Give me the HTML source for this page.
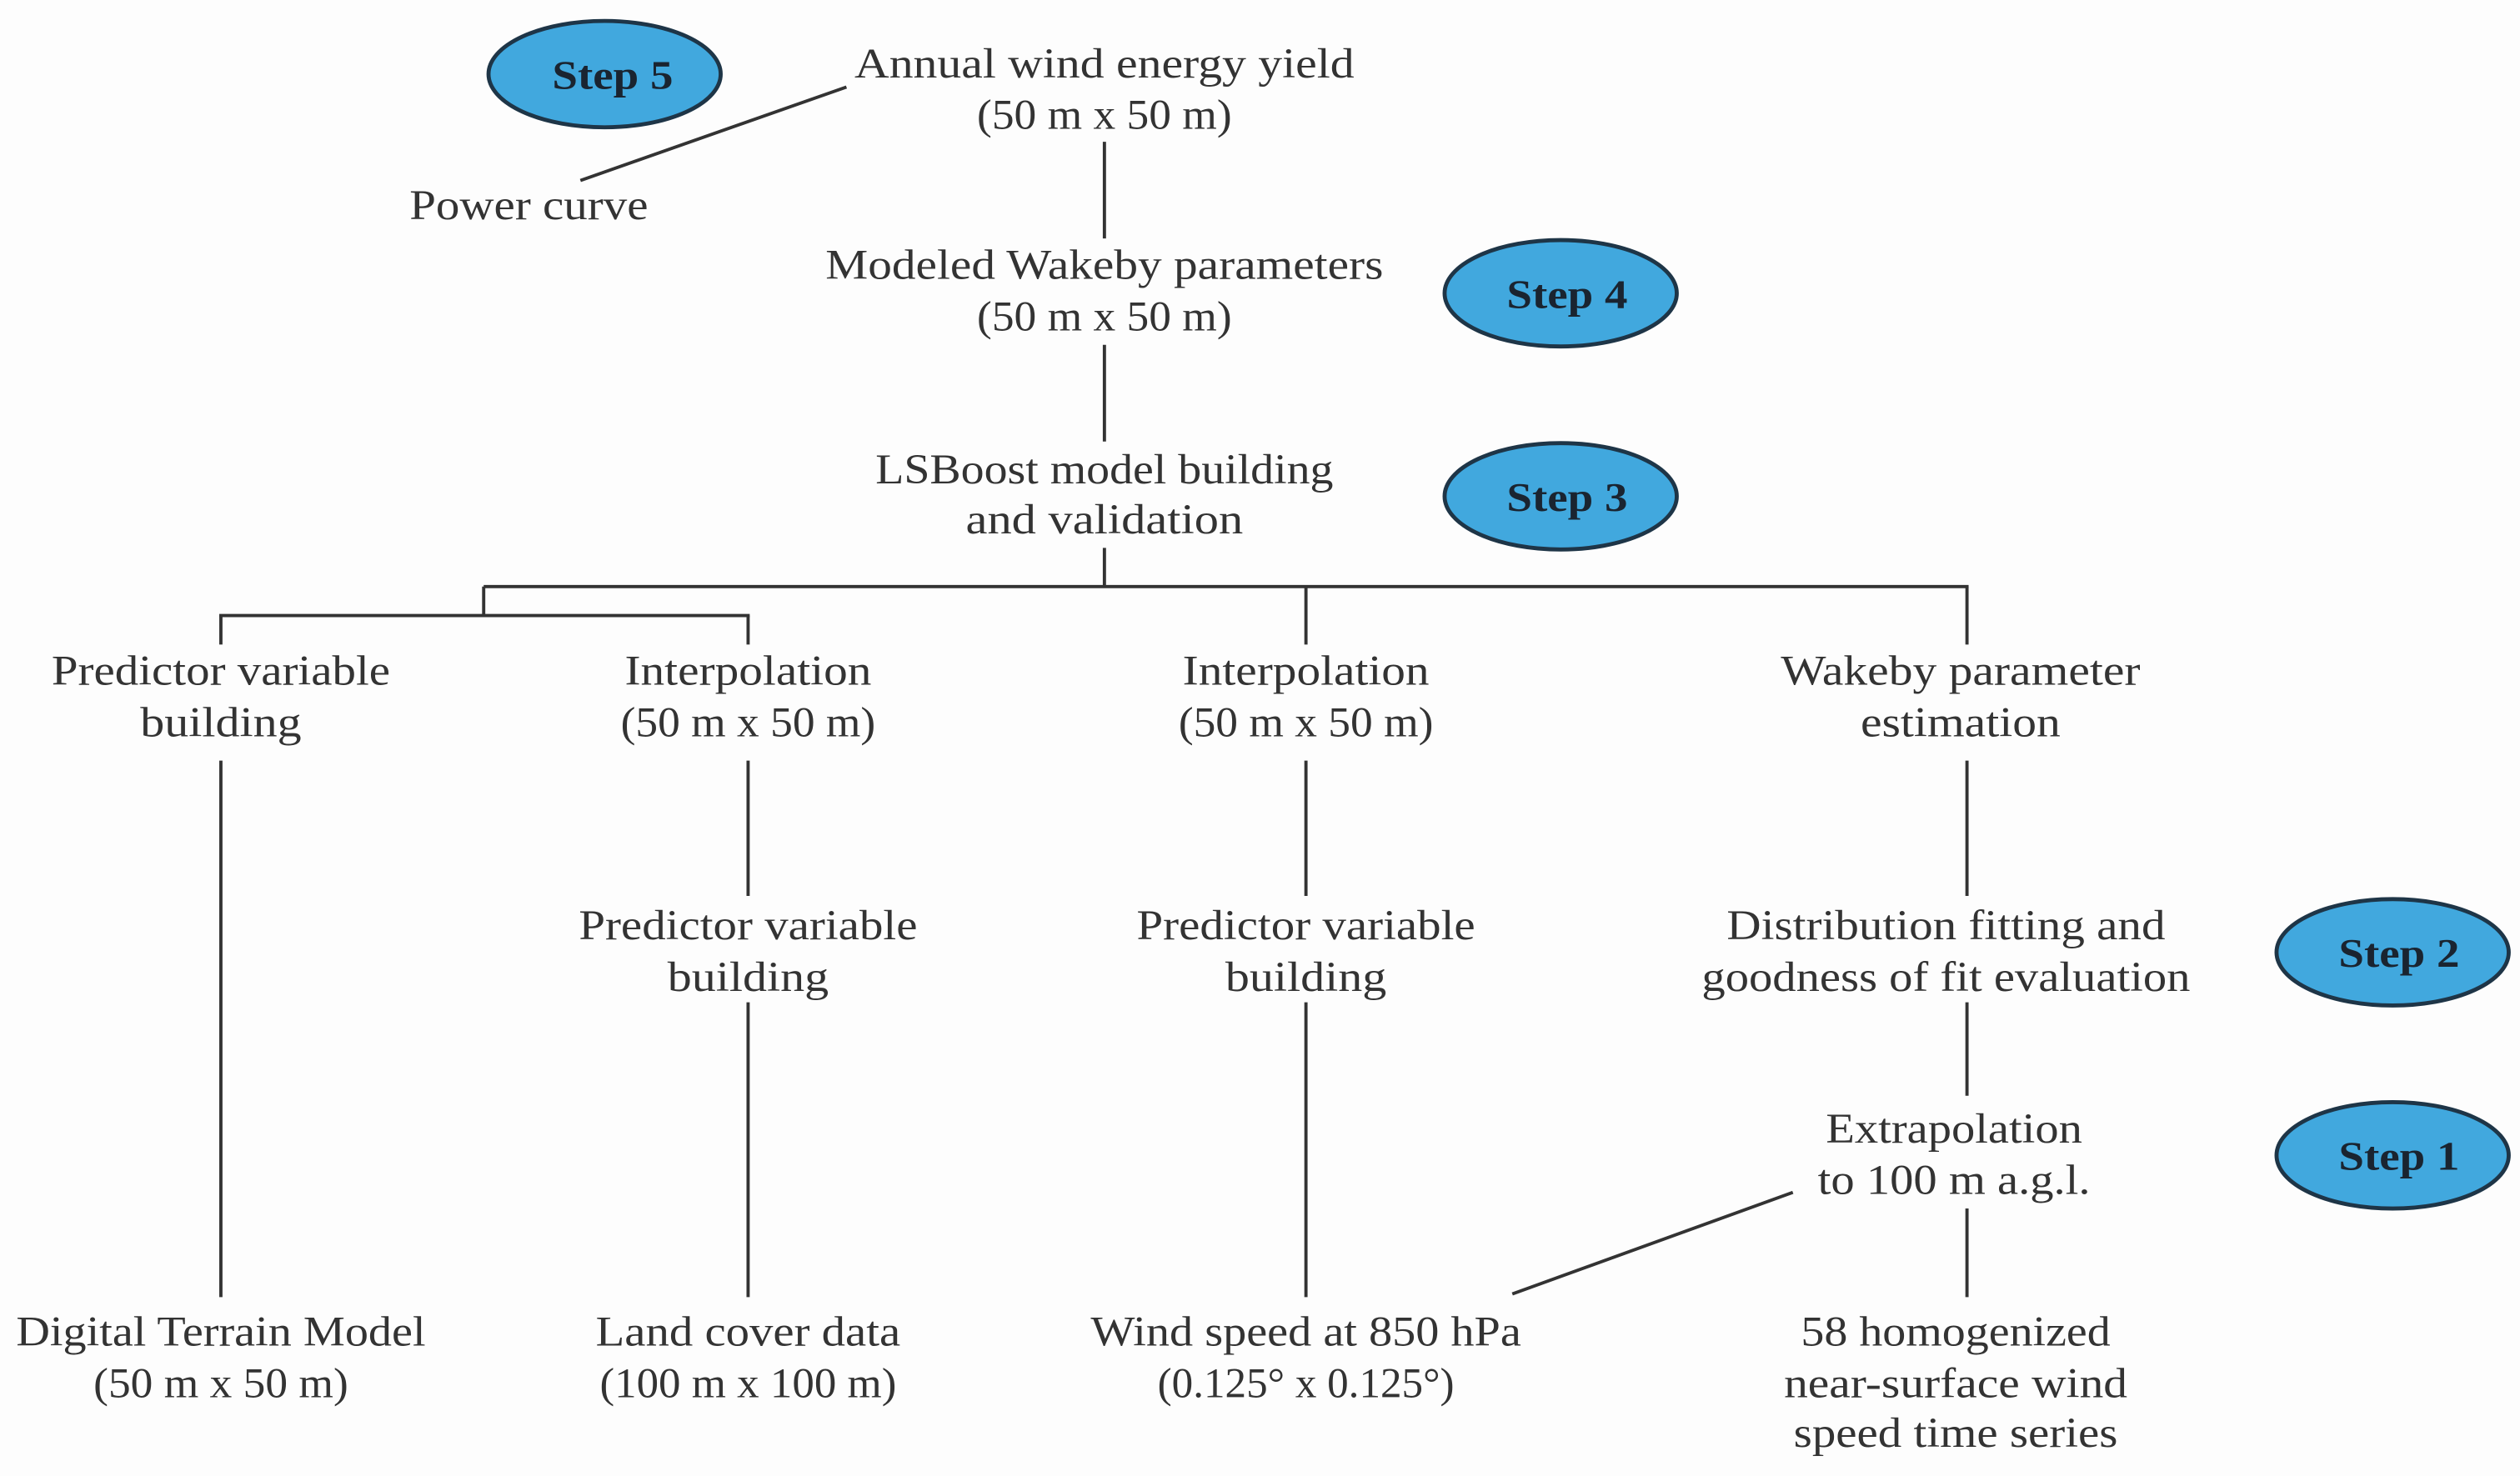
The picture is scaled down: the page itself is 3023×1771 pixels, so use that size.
<!DOCTYPE html>
<html><head><meta charset="utf-8"><style>
html,body{margin:0;padding:0;background:#fdfdfd;}
svg{display:block;}
text{font-family:"Liberation Serif",serif;fill:#333;font-size:26px;}
.s{font-weight:bold;fill:#1a2430;font-size:25px;}
</style></head><body>
<svg width="3023" height="1771" viewBox="0 0 1563 916" preserveAspectRatio="none" xmlns="http://www.w3.org/2000/svg">
<rect width="1563" height="916" fill="#fdfdfd"/>
<g stroke="#333" stroke-width="2" fill="none">
<line x1="360" y1="112" x2="525" y2="54"/>
<line x1="685" y1="88" x2="685" y2="148"/>
<line x1="685" y1="214" x2="685" y2="274"/>
<line x1="685" y1="340" x2="685" y2="364"/>
<line x1="300" y1="364" x2="1221" y2="364"/>
<line x1="810" y1="364" x2="810" y2="400"/>
<line x1="1220" y1="364" x2="1220" y2="400"/>
<line x1="300" y1="364" x2="300" y2="382"/>
<line x1="136" y1="382" x2="465" y2="382"/>
<line x1="137" y1="382" x2="137" y2="400"/>
<line x1="464" y1="382" x2="464" y2="400"/>
<line x1="137" y1="472" x2="137" y2="805"/>
<line x1="464" y1="472" x2="464" y2="556"/>
<line x1="464" y1="622" x2="464" y2="805"/>
<line x1="810" y1="472" x2="810" y2="556"/>
<line x1="810" y1="622" x2="810" y2="805"/>
<line x1="1220" y1="472" x2="1220" y2="556"/>
<line x1="1220" y1="622" x2="1220" y2="680"/>
<line x1="1220" y1="750" x2="1220" y2="805"/>
<line x1="938" y1="803" x2="1112" y2="740"/>
</g>
<g fill="#41a8de" stroke="#1e3547" stroke-width="2.5">
<ellipse cx="375" cy="46" rx="72" ry="33"/>
<ellipse cx="968" cy="182" rx="72" ry="33"/>
<ellipse cx="968" cy="308" rx="72" ry="33"/>
<ellipse cx="1484" cy="591" rx="72" ry="33"/>
<ellipse cx="1484" cy="717" rx="72" ry="33"/>
</g>
<g text-anchor="middle">
<text class="s" x="380" y="55" textLength="75" lengthAdjust="spacingAndGlyphs">Step 5</text>
<text class="s" x="972" y="191" textLength="75" lengthAdjust="spacingAndGlyphs">Step 4</text>
<text class="s" x="972" y="317" textLength="75" lengthAdjust="spacingAndGlyphs">Step 3</text>
<text class="s" x="1488" y="600" textLength="75" lengthAdjust="spacingAndGlyphs">Step 2</text>
<text class="s" x="1488" y="726" textLength="75" lengthAdjust="spacingAndGlyphs">Step 1</text>
</g>
<g text-anchor="middle" lengthAdjust="spacingAndGlyphs">
<text x="685" y="48" textLength="310" lengthAdjust="spacingAndGlyphs">Annual wind energy yield</text>
<text x="685" y="80" textLength="158" lengthAdjust="spacingAndGlyphs">(50 m x 50 m)</text>
<text x="328" y="136" textLength="148" lengthAdjust="spacingAndGlyphs">Power curve</text>
<text x="685" y="173" textLength="346" lengthAdjust="spacingAndGlyphs">Modeled Wakeby parameters</text>
<text x="685" y="205" textLength="158" lengthAdjust="spacingAndGlyphs">(50 m x 50 m)</text>
<text x="685" y="300" textLength="284" lengthAdjust="spacingAndGlyphs">LSBoost model building</text>
<text x="685" y="331" textLength="172" lengthAdjust="spacingAndGlyphs">and validation</text>

<text x="137" y="425" textLength="210" lengthAdjust="spacingAndGlyphs">Predictor variable</text>
<text x="137" y="457" textLength="100" lengthAdjust="spacingAndGlyphs">building</text>
<text x="464" y="425" textLength="153" lengthAdjust="spacingAndGlyphs">Interpolation</text>
<text x="464" y="457" textLength="158" lengthAdjust="spacingAndGlyphs">(50 m x 50 m)</text>
<text x="810" y="425" textLength="153" lengthAdjust="spacingAndGlyphs">Interpolation</text>
<text x="810" y="457" textLength="158" lengthAdjust="spacingAndGlyphs">(50 m x 50 m)</text>
<text x="1216" y="425" textLength="223" lengthAdjust="spacingAndGlyphs">Wakeby parameter</text>
<text x="1216" y="457" textLength="124" lengthAdjust="spacingAndGlyphs">estimation</text>

<text x="464" y="583" textLength="210" lengthAdjust="spacingAndGlyphs">Predictor variable</text>
<text x="464" y="615" textLength="100" lengthAdjust="spacingAndGlyphs">building</text>
<text x="810" y="583" textLength="210" lengthAdjust="spacingAndGlyphs">Predictor variable</text>
<text x="810" y="615" textLength="100" lengthAdjust="spacingAndGlyphs">building</text>
<text x="1207" y="583" textLength="272" lengthAdjust="spacingAndGlyphs">Distribution fitting and</text>
<text x="1207" y="615" textLength="303" lengthAdjust="spacingAndGlyphs">goodness of fit evaluation</text>

<text x="1212" y="709" textLength="159" lengthAdjust="spacingAndGlyphs">Extrapolation</text>
<text x="1212" y="741" textLength="169" lengthAdjust="spacingAndGlyphs">to 100  m a.g.l.</text>

<text x="137" y="835" textLength="254" lengthAdjust="spacingAndGlyphs">Digital Terrain Model</text>
<text x="137" y="867" textLength="158" lengthAdjust="spacingAndGlyphs">(50 m x 50 m)</text>
<text x="464" y="835" textLength="189" lengthAdjust="spacingAndGlyphs">Land cover data</text>
<text x="464" y="867" textLength="184" lengthAdjust="spacingAndGlyphs">(100 m x 100 m)</text>
<text x="810" y="835" textLength="267" lengthAdjust="spacingAndGlyphs">Wind speed at 850 hPa</text>
<text x="810" y="867" textLength="184" lengthAdjust="spacingAndGlyphs">(0.125° x 0.125°)</text>
<text x="1213" y="835" textLength="192" lengthAdjust="spacingAndGlyphs">58 homogenized</text>
<text x="1213" y="867" textLength="213" lengthAdjust="spacingAndGlyphs">near-surface wind</text>
<text x="1213" y="898" textLength="201" lengthAdjust="spacingAndGlyphs">speed time series</text>
</g>
</svg>
</body></html>
